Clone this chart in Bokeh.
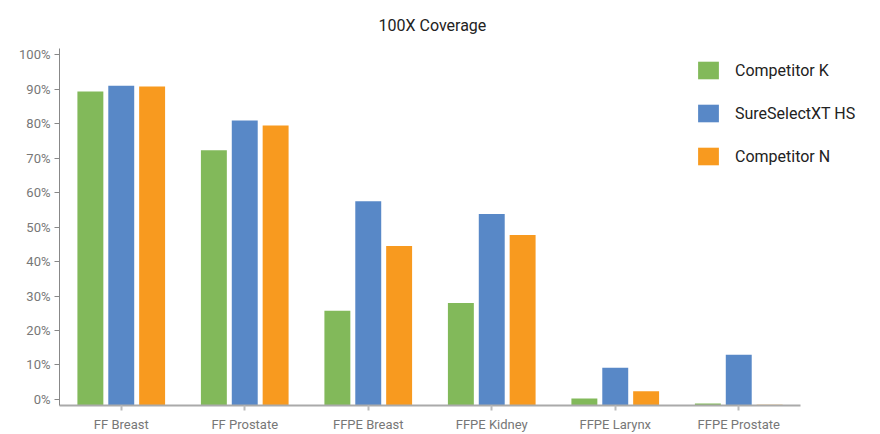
from bokeh.plotting import figure
from bokeh.models import Range1d, Legend, LegendItem, ColumnDataSource, FixedTicker, CustomJSTickFormatter
from bokeh.embed import file_html
from bokeh.resources import INLINE

categories = ["FF Breast", "FF Prostate", "FFPE Breast", "FFPE Kidney", "FFPE Larynx", "FFPE Prostate"]
competitor_k = [89.3, 72.3, 25.7, 28.0, 0.3, -1.2]
sureselect = [91.0, 80.9, 57.5, 53.8, 9.2, 13.0]
competitor_n = [90.8, 79.5, 44.5, 47.7, 2.4, -1.5]
series_names = ["Competitor K", "SureSelectXT HS", "Competitor N"]
y_ticks = [0, 10, 20, 30, 40, 50, 60, 70, 80, 90, 100]

colors = ["#82b95a", "#5888c7", "#f89a1f"]
Y0, Y1 = -1.75, 101.8

n = len(categories)
centers = [i + 0.5 for i in range(n)]
src = ColumnDataSource(dict(x=centers, k=competitor_k, s=sureselect, n=competitor_n))

p = figure(x_range=Range1d(0, n * 813 / 741), y_range=Range1d(Y0, Y1),
           frame_width=813, frame_height=357, output_backend="svg", toolbar_location=None,
           min_border_left=59, min_border_right=0, min_border_top=47, min_border_bottom=0,
           title="100X Coverage")
p.title.align = "left"
p.title.text_font = "Roboto"
p.title.text_font_size = "16px"
p.title.text_font_style = "normal"
p.title.text_color = "#222222"
p.title.offset = 319
p.title.standoff = 27

renderers = []
for col, off, c in zip(["k", "s", "n"], [-0.25, 0.0, 0.25], colors):
    xs = [x + off for x in centers]
    r = p.vbar(x=xs, top=src.data[col], bottom=Y0, width=0.21,
               fill_color=c, line_color=None)
    renderers.append(r)

p.xgrid.visible = False
p.ygrid.visible = False
p.outline_line_color = None

p.yaxis.ticker = FixedTicker(ticks=y_ticks)
p.yaxis.formatter = CustomJSTickFormatter(code="return tick + '%';")
p.yaxis.axis_line_color = "#888888"
p.yaxis.major_tick_line_color = "#888888"
p.yaxis.major_tick_in = 0
p.yaxis.major_tick_out = 5
p.yaxis.minor_tick_line_color = None
p.yaxis.major_label_text_font = "Roboto"
p.yaxis.major_label_text_font_size = "13px"
p.yaxis.major_label_text_color = "#777777"
p.yaxis.major_label_standoff = 4

p.xaxis.ticker = FixedTicker(ticks=centers)
p.xaxis.major_label_overrides = {x: c for x, c in zip(centers, categories)}
p.xaxis.bounds = (0, n)
p.xaxis.axis_line_color = "#aaaaaa"
p.xaxis.axis_line_width = 2
p.xaxis.major_tick_line_color = "#bbbbbb"
p.xaxis.major_tick_line_width = 2
p.xaxis.major_tick_in = 0
p.xaxis.major_tick_out = 5
p.xaxis.minor_tick_line_color = None
p.xaxis.major_label_text_font = "Roboto"
p.xaxis.major_label_text_font_size = "13px"
p.xaxis.major_label_text_color = "#777777"
p.xaxis.major_label_standoff = 6

legend = Legend(items=[LegendItem(label=nm, renderers=[r]) for nm, r in zip(series_names, renderers)],
                location=(636, 238))
legend.glyph_width = 26
legend.glyph_height = 22
legend.label_text_font = "Roboto"
legend.label_text_font_size = "16px"
legend.label_text_color = "#222222"
legend.label_standoff = 14
legend.spacing = 21
legend.padding = 0
legend.margin = 0
legend.border_line_color = None
legend.background_fill_alpha = 0
p.add_layout(legend, "center")

open("out.html", "w").write(file_html(p, INLINE))
